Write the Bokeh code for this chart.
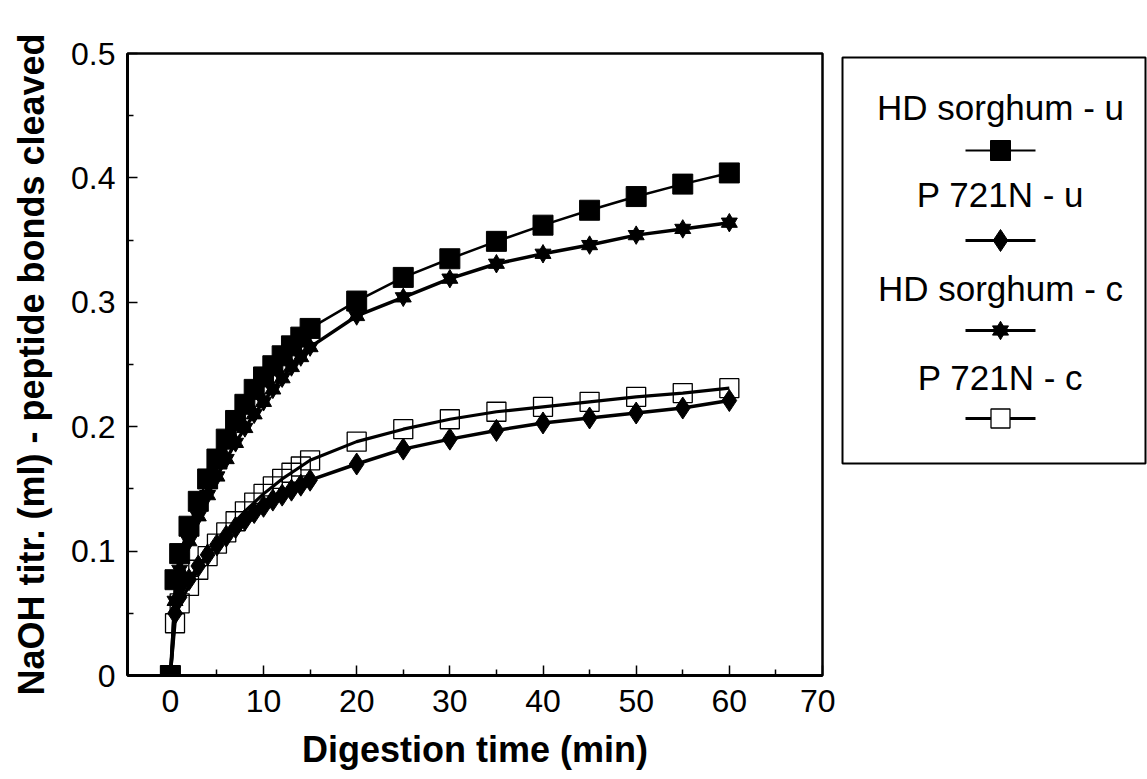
from bokeh.plotting import figure
from bokeh.models import Range1d, FixedTicker, CustomJSTickFormatter
from bokeh.layouts import row
from bokeh.core.properties import value
from bokeh.embed import file_html
from bokeh.resources import INLINE

# ---- data ----
time_min = [0, 0.5, 1, 2, 3, 4, 5, 6, 7, 8, 9, 10, 11, 12, 13, 14, 15,
            20, 25, 30, 35, 40, 45, 50, 55, 60]
hd_sorghum_u = [0, 0.077, 0.098, 0.120, 0.140, 0.158, 0.174, 0.190, 0.205, 0.218,
                0.230, 0.240, 0.249, 0.257, 0.265, 0.272, 0.279,
                0.301, 0.320, 0.335, 0.349, 0.362, 0.374, 0.385, 0.395, 0.404]
p721n_u = [0, 0.050, 0.063, 0.077, 0.088, 0.097, 0.105, 0.112, 0.119, 0.125,
           0.131, 0.136, 0.141, 0.145, 0.149, 0.153, 0.157,
           0.170, 0.182, 0.190, 0.197, 0.203, 0.207, 0.211, 0.215, 0.221]
hd_sorghum_c = [0, 0.060, 0.085, 0.108, 0.128, 0.145, 0.160, 0.174, 0.187, 0.199,
                0.210, 0.220, 0.230, 0.239, 0.248, 0.256, 0.264,
                0.289, 0.304, 0.319, 0.331, 0.339, 0.346, 0.354, 0.359, 0.364]
p721n_c = [0, 0.042, 0.058, 0.072, 0.085, 0.096, 0.106, 0.115, 0.124, 0.132,
           0.139, 0.146, 0.152, 0.158, 0.163, 0.168, 0.173,
           0.188, 0.198, 0.206, 0.212, 0.216, 0.220, 0.224, 0.227, 0.231]

legend_labels = ["HD sorghum - u", "P 721N - u", "HD sorghum - c", "P 721N - c"]
x_ticks = [0, 10, 20, 30, 40, 50, 60, 70]
x_minor = [5, 15, 25, 35, 45, 55, 65]
y_ticks = [0, 0.1, 0.2, 0.3, 0.4, 0.5]
y_minor = [0.05, 0.15, 0.25, 0.35, 0.45]

FONT = "Liberation Sans"
TOP, BOTTOM = 53, 104

# ---- main plot ----
p = figure(width=835, height=779, output_backend="svg", toolbar_location=None,
           x_range=Range1d(-4.6, 70.0), y_range=Range1d(0, 0.5),
           min_border_left=127, min_border_right=13, min_border_top=TOP,
           min_border_bottom=BOTTOM)
p.xgrid.visible = False
p.ygrid.visible = False
p.outline_line_color = "black"
p.outline_line_width = 2.5
p.background_fill_color = "white"
p.border_fill_color = "white"

for ax in (p.xaxis[0], p.yaxis[0]):
    ax.axis_line_width = 3
    ax.axis_line_color = "black"
    ax.major_tick_in = 10
    ax.major_tick_out = 0
    ax.minor_tick_in = 6
    ax.minor_tick_out = 0
    ax.major_tick_line_width = 1.5
    ax.minor_tick_line_width = 1.5
    ax.major_label_text_font = FONT
    ax.major_label_text_font_size = "32px"
    ax.major_label_text_color = "black"
    ax.axis_label_text_font = FONT
    ax.axis_label_text_font_style = "bold"
    ax.axis_label_text_font_size = "36px"
    ax.axis_label_text_color = "black"

p.xaxis.ticker = FixedTicker(ticks=x_ticks, minor_ticks=x_minor)
p.yaxis.ticker = FixedTicker(ticks=y_ticks, minor_ticks=y_minor)
p.yaxis.formatter = CustomJSTickFormatter(code="return tick == 0 ? '0' : tick.toFixed(1);")
p.xaxis.major_label_standoff = 14
p.yaxis.major_label_standoff = 12
p.xaxis.axis_label = "Digestion time (min)"
p.yaxis.axis_label = "NaOH titr. (ml) - peptide bonds cleaved"
p.xaxis.axis_label_standoff = 14
p.yaxis.axis_label_standoff = 16

# P 721N - c : open squares
p.line(time_min, p721n_c, line_color="black", line_width=3.2)
p.scatter(time_min, p721n_c, marker="square", size=19, fill_color=None,
          line_color="black", line_width=1.3)
# P 721N - u : diamonds
p.line(time_min, p721n_u, line_color="black", line_width=3.5)
p.scatter(time_min, p721n_u, marker="diamond", size=22, fill_color="black",
          line_color="black")
# HD sorghum - c : six-pointed stars
p.line(time_min, hd_sorghum_c, line_color="black", line_width=3.5)
p.scatter(time_min, hd_sorghum_c, marker="triangle", size=16, fill_color="black",
          line_color="black")
p.scatter(time_min, hd_sorghum_c, marker="inverted_triangle", size=16,
          fill_color="black", line_color="black")
# HD sorghum - u : filled squares
p.line(time_min, hd_sorghum_u, line_color="black", line_width=2.5)
p.scatter(time_min, hd_sorghum_u, marker="square", size=20, fill_color="black",
          line_color="black")

# ---- legend panel (data units = page pixels) ----
lg = figure(width=312, height=779, output_backend="svg", toolbar_location=None,
            x_range=Range1d(0, 312), y_range=Range1d(779 - BOTTOM, TOP),
            min_border_left=0, min_border_right=0,
            min_border_top=TOP, min_border_bottom=BOTTOM)
lg.axis.visible = False
lg.grid.visible = False
lg.outline_line_color = None
lg.background_fill_color = "white"
lg.border_fill_color = "white"

lg.quad(left=[7], right=[310], top=[57], bottom=[463], fill_color=None,
        line_color="black", line_width=2)

label_y = [107, 194, 288, 377]
marker_y = [150, 240, 330, 418]
lg.text(x=[165] * 4, y=label_y, text=legend_labels, text_align="center",
        text_baseline="middle", text_font=value(FONT), text_font_size="35px",
        text_color="black")
lg.segment(x0=[130] * 4, x1=[200] * 4, y0=marker_y, y1=marker_y,
           line_color="black", line_width=[2, 3, 3, 3])
lg.scatter([165], [marker_y[0]], marker="square", size=20, fill_color="black",
           line_color="black")
lg.scatter([165], [marker_y[1]], marker="diamond", size=22, fill_color="black",
           line_color="black")
lg.scatter([165], [marker_y[2]], marker="triangle", size=16, fill_color="black",
           line_color="black")
lg.scatter([165], [marker_y[2]], marker="inverted_triangle", size=16,
           fill_color="black", line_color="black")
lg.scatter([165], [marker_y[3]], marker="square", size=19, fill_color="white",
           line_color="black", line_width=1.3)

layout = row(p, lg, spacing=0)
open("out.html", "w").write(file_html(layout, INLINE))
